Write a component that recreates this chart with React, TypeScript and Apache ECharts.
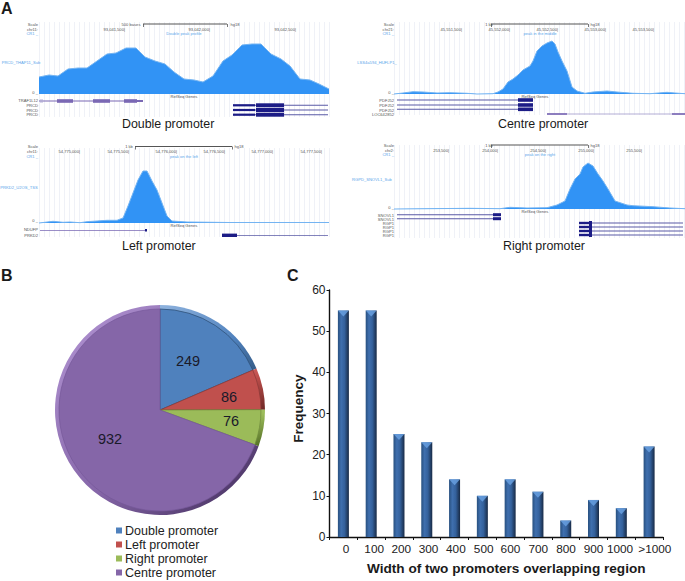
import React, { useEffect, useRef } from "react";
import * as echarts from "echarts";

const FONT = "'Liberation Sans', Arial, sans-serif";

// Panel A: signal profiles (position along the track, signal height)
const doublePos = [0,10,19,29,39,48,58,68,77,87,97,106,116,126,135,145,155,164,174,184,193,203,213,222,232,242,251,261,271,280,290];
const doubleVal = [17,19,18,25,26,26,33,40,41,46,46,37,33,30,22,15,14,12,18,33,39,49,50,50,40,35,28,15,14,10,5];
const centrePos = [0,9,19,29,43,56,73,83,99,104,109,114,119,124,129,136,139,143,148,153,158,161,164,168,173,178,183,191,199,213,223,239,256,273,281,291];
const centreVal = [0,1,2.3,2,1,1.3,0.7,0,0.3,2,5,12,15,19,24,28,33,43,48,51,53,50,42,33,23,7,3,0.7,2,3,2,0.7,0.3,1.7,1,0.3];
const leftPos = [0,14,24,31,41,48,58,68,78,84,89,94,99,104,108,113,118,123,128,133,148,174,191,290];
const leftVal = [0,1.7,0.7,1,0.3,1.3,2,2.7,2.7,5,17,30,43,52,52,42,33,20,7,2,1,0.7,0.5,0.5];
const rightPos = [0,76,106,116,133,153,163,171,176,181,186,189,194,199,204,209,214,221,233,239,259,276,291];
const rightVal = [0,0.7,0.3,1.7,1,1.3,4,8,20,30,35,42,46,43,35,28,20,8,4,3.3,2.3,1,0.3];

// Gene models: start, end, row, thickness, colour index
const GENE_COLORS = ["#7a68b4", "#1c1c86", "#b4aed6", "#555555", "#5a5aa6"];
const doubleGenes = [
  [0,104,-7,1,0],[18,34,-7,3.6,0],[54,71,-7,3.6,0],[85,98,-7,3.6,0],[98,104,-7,2,0],[1,4,-7,3,2],
  [194,289,-11.3,1,4],[194,216,-11.3,2.2,1],[217,245,-11.3,4,1],
  [194,289,-16,1,4],[194,216,-16,2.2,1],[217,245,-16,4,1],
  [194,289,-20.7,1,4],[194,216,-20.7,2.2,1],[217,245,-20.7,4,1],
  [104,188,70,0.8,3],[104,104.8,68.5,3,3],[188,188.8,68.5,3,3],
];
const centreGenes = [
  [3,138,-6,1,4],[124,139,-6,3.6,1],[3,138,-11,1,4],[124,139,-11,3.6,1],[3,138,-15.3,1,4],[124,139,-15.3,3.6,1],
  [153,291,-20,0.8,2],[153,173,-20,1.6,0],[278,291,-20,1.6,0],
  [97,194,70,0.8,3],[97,97.8,68.5,3,3],[194,194.8,68.5,3,3],
];
const leftGenes = [
  [1,108,-7.3,0.8,0],[106,108,-7.3,2.6,1],[183,198,-12.3,3.4,1],[198,289,-12.3,0.8,4],
  [96,193,76.5,0.8,3],[96,96.8,75,3,3],[193,193.8,75,3,3],
];
const rightGenes = [
  [3,99,-5.7,1,4],[99,107,-5.7,3,1],[3,99,-9.7,1,4],[99,107,-9.7,3,1],
  [185,195,-14,2.4,1],[195,198,-14,4,1],[198,289,-14,0.8,4],
  [185,195,-18,2.4,1],[195,198,-18,4,1],[198,289,-18,0.8,4],
  [185,195,-22,2.4,1],[195,198,-22,4,1],[198,289,-22,0.8,4],
  [185,195,-26,2.4,1],[195,198,-26,4,1],[198,289,-26,0.8,4],
  [97,194,64,0.8,3],[97,97.8,62.5,3,3],[194,194.8,62.5,3,3],
];

// Panel B
const pieNames = ["Double promoter", "Left promoter", "Right promoter", "Centre promoter"];
const pieValues = [249, 86, 76, 932];
const pieColors = ["#4f81bd", "#c0504d", "#9bbb59", "#8566a8"];
const pieLight = ["#8fb3de", "#f0908c", "#c6de8c", "#b597d6"];
const pieDark = ["#22405f", "#6e2825", "#4f6a22", "#3e2a56"];
const pieEdge = ["#2a4a70", "#8a3a38", "#6f8a3c", "#75589a"];
const pieLabelX = [188, 229, 231, 110];
const pieLabelY = [361, 397, 421, 439];

// Panel C
const widthCategories = ["0","100","200","300","400","500","600","700","800","900","1000",">1000"];
const frequencies = [55,55,25,23,14,10,14,11,4,9,7,22];
const categoryLabelShift = [2.7,3,2.3,1.7,1.3,1.3,0.3,0.3,0.3,0,-1.3,5.7];

const signal = (pos: number[], val: number[]) => pos.map((p, i) => [p, val[i]]);

const panels = [
  { left: 39, width: 290, top: 22, ymax: 72, ymin: -23, pos: doublePos, val: doubleVal, genes: doubleGenes },
  { left: 394, width: 291, top: 22, ymax: 72, ymin: -21, pos: centrePos, val: centreVal, genes: centreGenes },
  { left: 39, width: 290, top: 148, ymax: 75, ymin: -14, pos: leftPos, val: leftVal, genes: leftGenes },
  { left: 394, width: 291, top: 145, ymax: 64, ymin: -29, pos: rightPos, val: rightVal, genes: rightGenes },
];

type T = [string, number, number, string?, string?];
const tiny = (items: T[]) =>
  items.map(([text, x, y, align, fill]) => ({
    type: "text",
    z: 20,
    style: { text, x, y, align: align || "center", verticalAlign: "middle", fontSize: 4.1, fontFamily: FONT, fill: fill || "#555" },
  }));
const big = (text: string, x: number, y: number, size = 12.4, weight = "normal") => ({
  type: "text",
  z: 20,
  style: { text, x, y, align: "left", verticalAlign: "middle", fontSize: size, fontWeight: weight, fontFamily: FONT, fill: "#1a1a1a" },
});

const BLUE = "#5aa5ea";
const tinyTexts: T[] = [
  // Double
  ["Scale",38,24.5,"right"],["chr11:",38,29.5,"right"],["CR1 _",38,33.5,"right",BLUE],["500 bases",131,24.5],["hg18",235,24.5],
  ["93,041,500|",125,29.5,"right"],["93,042,000|",210,29.5,"right"],["93,042,500|",296,29.5,"right"],
  ["Double peak profile",184,33.5,"center",BLUE],["PRCD_THAP11_Sub",21,62,"center",BLUE],["0 _",38,92,"right"],["RefSeq Genes",184,96.5],
  ["TRAF1L12",38,100.5,"right"],["PRCD",38,105,"right"],["PRCD",38,110,"right"],["PRCD",38,114,"right"],
  // Centre
  ["Scale",394,24.5,"right"],["chr21:",394,29.5,"right"],["CR1 _",394,33.5,"right",BLUE],["1 kb",489,24.5],["hg18",595,24.5],
  ["45,551,500|",462,29.5,"right"],["45,552,000|",510,29.5,"right"],["45,552,500|",558,29.5,"right"],["45,553,000|",606,29.5,"right"],["45,553,500|",654,29.5,"right"],
  ["peak in the middle",540,33.5,"center",BLUE],["LSS4a594_HUFLP1_",377,62,"center",BLUE],["0 _",394,92,"right"],["RefSeq Genes",535,96.5],
  ["PDFJ52",394,100.5,"right"],["PDFJ52",394,105.5,"right"],["PDFJ52",394,110,"right"],["LOC642852",394,114.5,"right"],
  // Left
  ["Scale",38,146,"right"],["chr11:",38,151,"right"],["CR1 _",38,156,"right",BLUE],["1 kb",129,146],["hg18",239,146],
  ["54,775,000|",80,151.5,"right"],["54,775,500|",129,151.5,"right"],["54,776,000|",177,151.5,"right"],["54,776,500|",225,151.5,"right"],["54,777,000|",273,151.5,"right"],["54,777,500|",322,151.5,"right"],
  ["peak on the left",184,156,"center",BLUE],["PRKD2_U2OS_TSS",19,187,"center",BLUE],["0 _",38,220,"right"],["RefSeq Genes",184,225.5],
  ["NDUFP",38,229.5,"right"],["PRKD2",38,235,"right"],
  // Right
  ["Scale",394,145,"right"],["chr2:",394,150,"right"],["CR1 _",394,154,"right",BLUE],["1 kb",489,145],["hg18",595,145],
  ["253,500|",449,150,"right"],["254,000|",498,150,"right"],["254,500|",546,150,"right"],["255,000|",594,150,"right"],["255,500|",642,150,"right"],
  ["peak on the right",540,154,"center",BLUE],["RGPD_SNOVL1_Sub",372,179,"center",BLUE],["0 _",394,207,"right"],["RefSeq Genes",535,211.5],
  ["SNOVL1",394,215,"right"],["SNOVL1",394,219,"right"],["RGP1",394,223.5,"right"],["RGP1",394,227.5,"right"],["RGP1",394,231.5,"right"],["RGP1",394,235.5,"right"],
];

function buildOption() {
  const grid: any[] = [];
  const xAxis: any[] = [];
  const yAxis: any[] = [];
  const series: any[] = [];

  panels.forEach((p, i) => {
    grid.push({ left: p.left, width: p.width, top: p.top, height: p.ymax - p.ymin, containLabel: false });
    xAxis.push({
      type: "value", gridIndex: i, min: 0, max: p.width, interval: 5,
      axisLine: { show: false }, axisTick: { show: false }, axisLabel: { show: false },
      splitLine: { show: true, lineStyle: { color: "#eff1f7", width: 1 } },
    });
    yAxis.push({ type: "value", gridIndex: i, min: p.ymin, max: p.ymax, show: false, splitLine: { show: false } });
    series.push({
      type: "line", xAxisIndex: i, yAxisIndex: i, data: signal(p.pos, p.val), symbol: "none", z: 3,
      lineStyle: { color: "#74b4f2", width: 1 }, areaStyle: { color: "#3193f5", opacity: 1 },
    });
    series.push({
      type: "custom", xAxisIndex: i, yAxisIndex: i, data: p.genes, z: 4, clip: false,
      renderItem: (_: any, api: any) => {
        const a = api.coord([api.value(0), api.value(2)]);
        const b = api.coord([api.value(1), api.value(2)]);
        const h = api.value(3);
        return { type: "rect", shape: { x: a[0], y: a[1] - h / 2, width: b[0] - a[0], height: h }, style: { fill: GENE_COLORS[api.value(4)] } };
      },
    });
  });

  // Panel C
  const c = panels.length;
  grid.push({ left: 329.5, right: 22, top: 290, bottom: 44 });
  xAxis.push({
    type: "category", gridIndex: c,
    data: widthCategories.map((value, i) => {
      const s = categoryLabelShift[i];
      return { value, textStyle: { padding: s >= 0 ? [0, 0, 0, 2 * s] : [0, -2 * s, 0, 0] } };
    }),
    name: "Width of two promoters overlapping region", nameLocation: "middle", nameGap: 24,
    nameTextStyle: { fontFamily: FONT, fontSize: 13.6, fontWeight: "bold", color: "#1a1a1a", padding: [0, 0, 0, 20] },
    axisLine: { lineStyle: { color: "#111", width: 1.4 } },
    axisTick: { show: true, length: 3, alignWithLabel: false, interval: 0, lineStyle: { color: "#111", width: 1 } },
    axisLabel: { interval: 0, margin: 6, fontFamily: FONT, fontSize: 11.8, color: "#222", hideOverlap: false },
    splitLine: { show: false },
  });
  yAxis.push({
    type: "value", gridIndex: c, min: 0, max: 60, interval: 10,
    name: "Frequency", nameLocation: "middle", nameGap: 24, nameRotate: 90,
    nameTextStyle: { fontFamily: FONT, fontSize: 13.5, fontWeight: "bold", color: "#1a1a1a", padding: [0, 0, 0, 10] },
    axisLine: { show: true, lineStyle: { color: "#111", width: 1.4 } },
    axisTick: { show: true, length: 3, lineStyle: { color: "#111", width: 1 } },
    axisLabel: { margin: 4, fontFamily: FONT, fontSize: 12, color: "#222" },
    splitLine: { show: false },
  });
  series.push({
    type: "bar", xAxisIndex: c, yAxisIndex: c, data: frequencies, barWidth: 11, z: 3,
    itemStyle: {
      color: {
        type: "linear", x: 0, y: 0, x2: 1, y2: 0,
        colorStops: [
          { offset: 0, color: "#28507f" },
          { offset: 0.3, color: "#3f6fae" },
          { offset: 0.6, color: "#34619c" },
          { offset: 1, color: "#182a45" },
        ],
      },
    },
  });
  series.push({
    type: "scatter", xAxisIndex: c, yAxisIndex: c, data: frequencies, symbol: "triangle", symbolRotate: 180,
    symbolSize: [11, 6], symbolOffset: [0, 3], z: 4, itemStyle: { color: "#6aa2e4" }, silent: true,
  });

  // Panel B
  const pieData = pieNames.map((name, i) => ({ name, value: pieValues[i] }));
  series.push({
    type: "pie", center: [160, 410], radius: [0, 101], startAngle: 90, z: 6, animation: false,
    avoidLabelOverlap: false, silent: true,
    data: pieData.map((d, i) => ({ ...d, itemStyle: { color: pieColors[i], borderColor: pieEdge[i], borderWidth: 0.7 } })),
    label: { show: true, position: "inside", formatter: "{c}", fontFamily: FONT, fontSize: 14.5, color: "#1a1a2a" },
    labelLine: { show: false },
    labelLayout: (p: any) => ({ x: pieLabelX[p.dataIndex], y: pieLabelY[p.dataIndex], align: "center", verticalAlign: "middle" }),
  });
  series.push({
    type: "pie", center: [160, 410], radius: [0, 105], startAngle: 90, z: 5, animation: false,
    avoidLabelOverlap: false, silent: true,
    data: pieData.map((d, i) => ({
      ...d,
      itemStyle: {
        color: {
          type: "linear", x: 0, y: 0, x2: 1, y2: 1,
          colorStops: [
            { offset: 0, color: pieLight[i] },
            { offset: 0.55, color: pieColors[i] },
            { offset: 1, color: pieDark[i] },
          ],
        },
      },
    })),
    label: { show: false }, labelLine: { show: false },
  });

  return {
    animation: false,
    backgroundColor: "#ffffff",
    grid, xAxis, yAxis, series,
    legend: {
      data: pieNames.map((name, i) => ({ name, itemStyle: { color: pieColors[i], borderWidth: 0 } })),
      orient: "vertical", left: 116, top: 524, width: 200, height: 120, itemWidth: 6, itemHeight: 6, itemGap: 1,
      icon: "rect", selectedMode: false, padding: 0,
      textStyle: { fontFamily: FONT, fontSize: 12.5, color: "#222", padding: [0, 0, 0, -2] },
    },
    graphic: {
      elements: [
        big("A", 1, 8, 16, "bold"), big("B", 1, 275, 16, "bold"), big("C", 287, 275, 16, "bold"),
        big("Double promoter", 122, 124), big("Centre promoter", 498, 124),
        big("Left promoter", 122, 246), big("Right promoter", 503, 246),
        ...tiny(tinyTexts),
      ],
    },
  };
}

export default function App() {
  const ref = useRef<HTMLDivElement>(null);
  useEffect(() => {
    const chart = echarts.init(ref.current!, undefined, { renderer: "svg" });
    chart.setOption(buildOption() as any);
    return () => chart.dispose();
  }, []);
  return <div ref={ref} style={{ position: "fixed", left: 0, top: 0, width: 685, height: 581 }} />;
}
